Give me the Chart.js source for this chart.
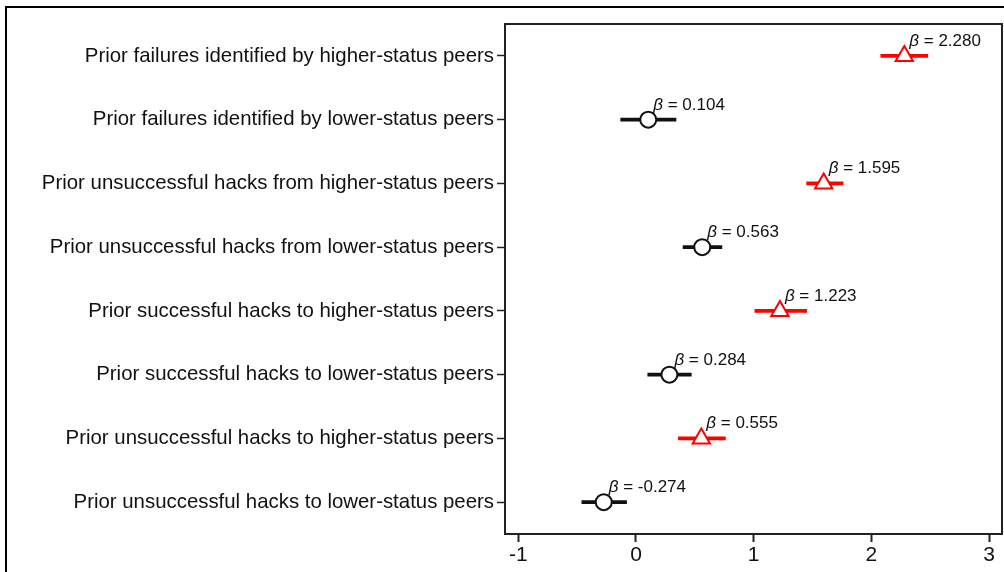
<!DOCTYPE html>
<html>
<head>
<meta charset="utf-8">
<script src="https://cdn.jsdelivr.net/npm/chart.js@4"></script>
<style>
  html, body { margin: 0; padding: 0; background: #fff; }
  #wrap { width: 1004px; height: 572px; }
</style>
</head>
<body>
<div id="wrap"><canvas id="coef" width="1004" height="572"></canvas></div>
<script>
var ctx = document.getElementById('coef').getContext('2d');

// rows, top to bottom
const labels = [
    'Prior failures identified by higher-status peers',
    'Prior failures identified by lower-status peers',
    'Prior unsuccessful hacks from higher-status peers',
    'Prior unsuccessful hacks from lower-status peers',
    'Prior successful hacks to higher-status peers',
    'Prior successful hacks to lower-status peers',
    'Prior unsuccessful hacks to higher-status peers',
    'Prior unsuccessful hacks to lower-status peers'
];
const beta = [2.280, 0.104, 1.595, 0.563, 1.223, 0.284, 0.555, -0.274];
const ciLow = [2.08, -0.13, 1.45, 0.40, 1.01, 0.10, 0.36, -0.46];
const ciHigh = [2.48, 0.34, 1.76, 0.73, 1.45, 0.47, 0.76, -0.08];
const higher = [true, false, true, false, true, false, true, false];
const xTicks = [-1, 0, 1, 2, 3];

const RED = '#ff0000';
const DARK = '#111';
const FONT = '"Liberation Sans", Arial, sans-serif';

let colors = higher.map(h => h ? RED : DARK);
let intervals = ciLow.map((lo, i) => [lo, ciHigh[i]]);

// white background + outer frame + plot box
const framePlugin = {
    id: 'frame',
    beforeDraw(chart) {
        const c = chart.ctx;
        c.save();
        c.fillStyle = '#fff';
        c.fillRect(0, 0, chart.width, chart.height);
        c.strokeStyle = '#000';
        c.lineWidth = 2;
        c.strokeRect(6, 7, chart.width + 20, chart.height + 20);
        c.restore();
    },
    beforeDatasetsDraw(chart) {
        const a = chart.chartArea;
        const c = chart.ctx;
        c.save();
        c.strokeStyle = '#222';
        c.lineWidth = 2;
        c.strokeRect(a.left, a.top, a.right - a.left, a.bottom - a.top);
        c.restore();
    }
};

// beta labels next to each marker
const betaLabels = {
    id: 'betaLabels',
    afterDatasetsDraw(chart) {
        const c = chart.ctx;
        const xs = chart.scales.x, ys = chart.scales.y;
        c.save();
        c.fillStyle = DARK;
        c.textBaseline = 'alphabetic';
        beta.forEach((b, i) => {
            let x = xs.getPixelForValue(b) + 5;
            let y = ys.getPixelForValue(i) - 10;
            c.font = 'italic 17px ' + FONT;
            c.fillText('\u03b2', x, y);
            let w = c.measureText('\u03b2').width;
            c.font = '17px ' + FONT;
            c.fillText(' = ' + b.toFixed(3), x + w, y);
        });
        c.restore();
    }
};

var chart = new Chart(ctx, {
    type: 'bar',
    data: {
        labels: labels,
        datasets: [{
            type: 'line',
            indexAxis: 'y',
            data: beta,
            showLine: false,
            pointStyle: higher.map(h => h ? 'triangle' : 'circle'),
            pointRadius: higher.map(h => h ? 10 : 8),
            pointHoverRadius: higher.map(h => h ? 10 : 8),
            pointBorderColor: colors,
            pointBackgroundColor: '#fff',
            pointBorderWidth: 2,
            order: 0
        }, {
            type: 'bar',
            indexAxis: 'y',
            data: intervals,
            backgroundColor: colors,
            borderWidth: 0,
            borderSkipped: false,
            barThickness: 3,
            order: 1
        }]
    },
    options: {
        indexAxis: 'y',
        responsive: false,
        animation: false,
        layout: {
            autoPadding: false,
            padding: { top: 24, right: 2, left: 0, bottom: 0 }
        },
        plugins: {
            legend: { display: false },
            tooltip: { enabled: false }
        },
        scales: {
            x: {
                type: 'linear',
                min: -1.113,
                max: 3.11,
                afterBuildTicks(axis) {
                    axis.ticks = xTicks.map(v => ({ value: v }));
                },
                afterFit(axis) {
                    axis.height = 38;
                    axis.paddingLeft = 0;
                    axis.paddingRight = 0;
                },
                border: { display: false },
                grid: {
                    drawOnChartArea: false,
                    tickLength: 8,
                    tickWidth: 2,
                    tickColor: '#222'
                },
                ticks: {
                    color: DARK,
                    padding: 1,
                    maxRotation: 0,
                    font: { family: FONT, size: 21 }
                }
            },
            y: {
                type: 'category',
                offset: true,
                afterFit(axis) { axis.width = 505; },
                border: { display: false },
                grid: {
                    drawOnChartArea: false,
                    offset: false,
                    tickLength: 8,
                    tickWidth: 1.5,
                    tickColor: '#222'
                },
                ticks: {
                    color: DARK,
                    padding: 3,
                    font: { family: FONT, size: 20.4 }
                }
            }
        }
    },
    plugins: [framePlugin, betaLabels]
});
</script>
</body>
</html>
